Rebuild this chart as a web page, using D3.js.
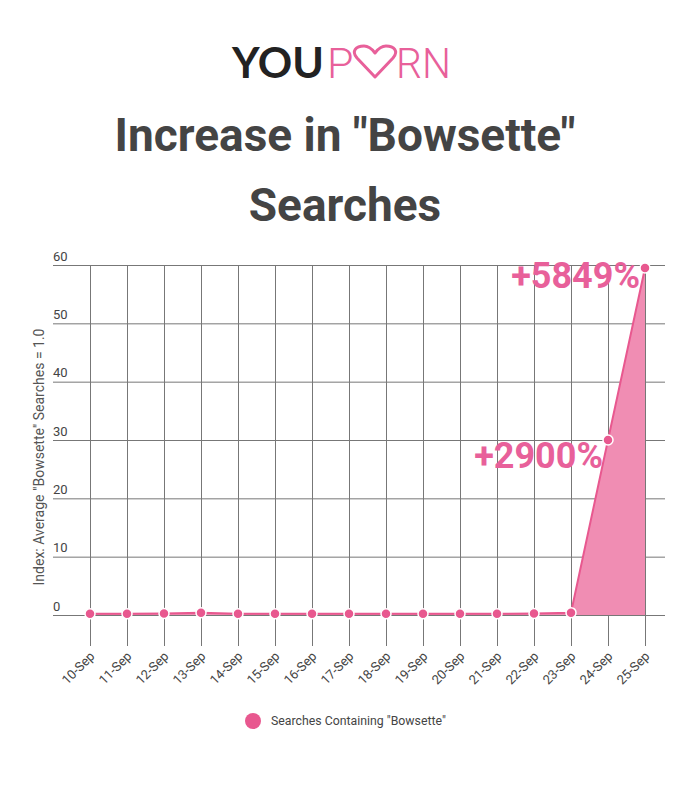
<!DOCTYPE html>
<html><head><meta charset="utf-8">
<script src="https://cdn.jsdelivr.net/npm/d3@7"></script>
<style>body{margin:0;background:#fff;}svg{display:block;font-family:Roboto,"Open Sans",sans-serif;}</style>
</head><body>
<svg id="c" width="700" height="790"></svg>
<script>
const categories = ["10-Sep","11-Sep","12-Sep","13-Sep","14-Sep","15-Sep","16-Sep","17-Sep","18-Sep","19-Sep","20-Sep","21-Sep","22-Sep","23-Sep","24-Sep","25-Sep"];
const searches = [0.2,0.2,0.25,0.4,0.2,0.2,0.2,0.2,0.2,0.2,0.2,0.2,0.25,0.4,30.0,59.49];
const yTicks = [0,10,20,30,40,50,60];
const annotations = [{cat:"24-Sep", label:"+2900%"},{cat:"25-Sep", label:"+5849%"}];
const seriesName = 'Searches Containing "Bowsette"';
const yTitle = 'Index: Average "Bowsette" Searches = 1.0';

const svg = d3.select("#c");
const pink = "#e8588f", fillPink = "#f08db3", grid = "#777";

// Logo
const logo = svg.append("g");
logo.append("text").attr("x",232).attr("y",78).attr("font-size",42).attr("font-weight",700)
  .attr("font-family","Lato, 'Open Sans', Roboto, sans-serif").attr("fill","#222")
  .attr("textLength",92).attr("lengthAdjust","spacingAndGlyphs").text("YOU");
logo.append("text").attr("x",327).attr("y",78).attr("font-size",43).attr("font-weight",300)
  .attr("fill","#e8609a").text("P");
logo.append("text").attr("x",396).attr("y",78).attr("font-size",43).attr("font-weight",300)
  .attr("fill","#e8609a").attr("textLength",55).attr("lengthAdjust","spacingAndGlyphs").text("RN");
// heart
logo.append("path").attr("d","M375,77 L357,58 C351,51 356,46 364,46 C369,46 372,49 375,53 C378,49 381,46 386,46 C394,46 399,51 393,58 Z")
  .attr("fill","none").attr("stroke","#e8609a").attr("stroke-width",3).attr("stroke-linejoin","round");

// Title
svg.append("text").attr("x",345).attr("y",151).attr("text-anchor","middle").attr("font-size",46).attr("font-weight",700).attr("fill","#444").text('Increase in "Bowsette"');
svg.append("text").attr("x",345).attr("y",221).attr("text-anchor","middle").attr("font-size",46).attr("font-weight",700).attr("fill","#444").text('Searches');

const x = d3.scalePoint().domain(categories).range([90,645]);
const y = d3.scaleLinear().domain([0,60]).range([615,265]);

// horizontal grid
const gy = svg.append("g")
  .call(d3.axisLeft(y).tickValues(yTicks).tickSize(0).tickFormat(d=>d));
gy.select(".domain").remove();
gy.selectAll(".tick line").remove();
gy.selectAll(".tick").each(function(d){
  const t = d3.select(this);
  t.append("line").attr("x1",53).attr("x2",665).attr("y1",0).attr("y2",0).attr("stroke",grid).attr("stroke-width",1);
  t.select("text").attr("x",53).attr("dy",-5).attr("text-anchor","start").attr("font-size",13).attr("fill","#444").attr("font-family","Roboto, sans-serif");
});

// vertical grid + x labels
const gx = svg.append("g").attr("transform","translate(0,615)")
  .call(d3.axisBottom(x).tickSize(0));
gx.select(".domain").remove();
gx.selectAll(".tick").each(function(d){
  const t = d3.select(this);
  t.append("line").attr("y1",265-615).attr("y2",31).attr("stroke",grid).attr("stroke-width",1);
  t.select("text").attr("font-size",13).attr("fill","#444").attr("font-family","Roboto, sans-serif")
    .attr("text-anchor","end").attr("dy",0).attr("y",0).attr("transform","translate(5,42) rotate(-45)");
});

// area
const area = d3.area().x((d,i)=>x(categories[i])).y0(y(0)).y1(d=>y(d));
svg.append("path").datum(searches).attr("d",area).attr("fill",fillPink);
const line = d3.line().x((d,i)=>x(categories[i])).y(d=>y(d));
svg.append("path").datum(searches).attr("d",line).attr("fill","none").attr("stroke",pink).attr("stroke-width",2);
svg.append("g").selectAll("circle").data(searches).join("circle")
  .attr("cx",(d,i)=>x(categories[i])).attr("cy",d=>y(d)).attr("r",5)
  .attr("fill",pink).attr("stroke","#fff").attr("stroke-width",1.5);

// annotations
const annDy = {"24-Sep":28, "25-Sep":20};
annotations.forEach(a=>{
  const i = categories.indexOf(a.cat);
  svg.append("text").attr("x",x(a.cat)-5).attr("y",y(searches[i])+annDy[a.cat]).attr("text-anchor","end")
    .attr("font-size",36).attr("font-weight",700).attr("fill","#e8609a").text(a.label);
});

// y title
svg.append("text").attr("transform","translate(44,457) rotate(-90)").attr("text-anchor","middle")
  .attr("font-size",14).attr("fill","#555").text(yTitle);

// legend
svg.append("circle").attr("cx",253).attr("cy",721).attr("r",8).attr("fill",pink);
svg.append("text").attr("x",271).attr("y",725).attr("font-size",12.3).attr("fill","#444").text(seriesName);
</script>
</body></html>
